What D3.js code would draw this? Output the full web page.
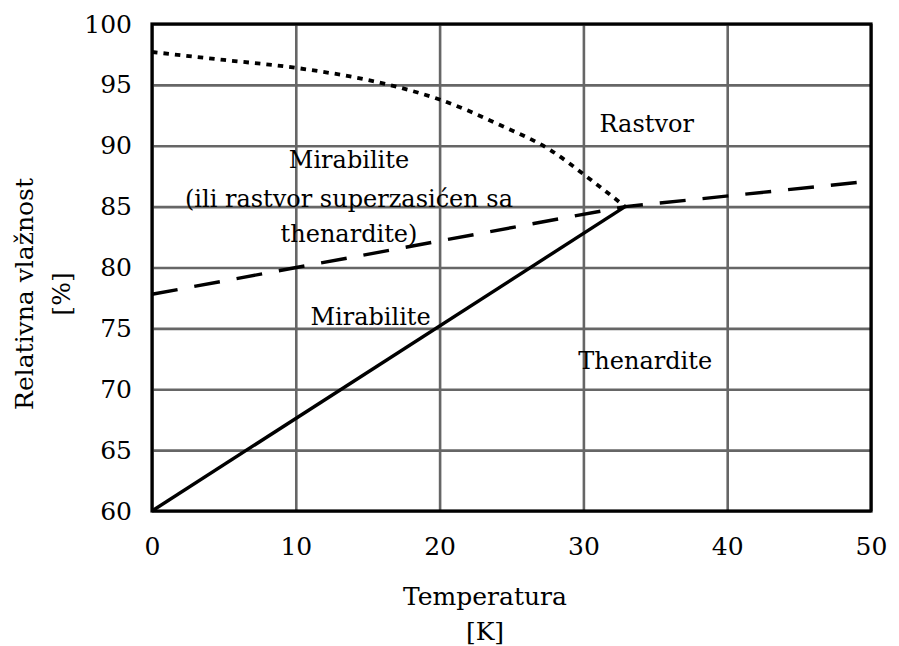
<!DOCTYPE html>
<html>
<head>
<meta charset="utf-8">
<script src="https://cdn.jsdelivr.net/npm/d3@7"></script>
<style>
  html, body { margin: 0; padding: 0; background: #fff; }
  svg { display: block; }
  text { font-family: "DejaVu Serif", "Liberation Serif", serif; fill: #000; }
</style>
</head>
<body>
<script>
// ---- data ----
const xTicks = [0, 10, 20, 30, 40, 50];
const yTicks = [60, 65, 70, 75, 80, 85, 90, 95, 100];
const xTitle = ["Temperatura", "[K]"];
const yTitle = ["Relativna vlažnost", "[%]"];

// solid line: mirabilite / thenardite boundary
const solidX = [0, 32.9];
const solidY = [60, 85];
// dashed line
const dashedX = [0, 32.9, 50];
const dashedY = [77.8, 85, 87.1];
// dotted curve
const dottedX = [0, 5, 10, 15, 17, 20, 24.2, 27.7, 30.3, 32.9];
const dottedY = [97.7, 97.05, 96.4, 95.4, 94.85, 93.8, 91.7, 89.65, 87.4, 85];

// region labels (data coordinates of centre / baseline)
const labelText = ["Rastvor", "Mirabilite", "(ili rastvor superzasićen sa", "thenardite)", "Mirabilite", "Thenardite"];
const labelX = [34.4, 13.7, 13.7, 13.7, 15.2, 34.3];
const labelY = [91.1, 88.2, 85.0, 82.1, 75.3, 71.7];

// ---- layout ----
const W = 899, H = 646;
const pLeft = 152, pRight = 871, pTop = 24, pBottom = 511;

const svg = d3.select("body").append("svg").attr("width", W).attr("height", H);
svg.append("rect").attr("width", W).attr("height", H).attr("fill", "#fff");

const x = d3.scaleLinear().domain([0, 50]).range([pLeft, pRight]);
const y = d3.scaleLinear().domain([60, 100]).range([pBottom, pTop]);

// grid
const gridColor = "#666";
const gx = svg.append("g").attr("transform", `translate(0,${pBottom})`)
  .call(d3.axisBottom(x).tickValues(xTicks).tickSize(-(pBottom - pTop)).tickFormat(""));
gx.select(".domain").remove();
gx.selectAll("line").attr("stroke", gridColor).attr("stroke-width", 2.6);

const gy = svg.append("g").attr("transform", `translate(${pLeft},0)`)
  .call(d3.axisLeft(y).tickValues(yTicks).tickSize(-(pRight - pLeft)).tickFormat(""));
gy.select(".domain").remove();
gy.selectAll("line").attr("stroke", gridColor).attr("stroke-width", 2.6);

// plot border
svg.append("rect").attr("x", pLeft).attr("y", pTop)
  .attr("width", pRight - pLeft).attr("height", pBottom - pTop)
  .attr("fill", "none").attr("stroke", "#000").attr("stroke-width", 3.2);

// tick labels
const xa = svg.append("g").attr("transform", `translate(0,${pBottom})`)
  .call(d3.axisBottom(x).tickValues(xTicks).tickSize(0).tickPadding(26).tickFormat(d3.format("d")));
xa.select(".domain").remove();
xa.selectAll("text").attr("font-size", 25).attr("font-family", "DejaVu Serif").attr("fill", "#000");

const ya = svg.append("g").attr("transform", `translate(${pLeft},0)`)
  .call(d3.axisLeft(y).tickValues(yTicks).tickSize(0).tickPadding(20).tickFormat(d3.format("d")));
ya.select(".domain").remove();
ya.selectAll("text").attr("font-size", 25).attr("font-family", "DejaVu Serif").attr("fill", "#000");

// lines
const lineGen = d3.line().x(d => x(d[0])).y(d => y(d[1]));
svg.append("path").datum(solidX.map((v, i) => [v, solidY[i]]))
  .attr("d", lineGen).attr("fill", "none").attr("stroke", "#000").attr("stroke-width", 3.4);
svg.append("path").datum(dashedX.map((v, i) => [v, dashedY[i]]))
  .attr("d", lineGen).attr("fill", "none").attr("stroke", "#000").attr("stroke-width", 3.4)
  .attr("stroke-dasharray", "26,17");
const curveGen = d3.line().x(d => x(d[0])).y(d => y(d[1])).curve(d3.curveMonotoneX);
svg.append("path").datum(dottedX.map((v, i) => [v, dottedY[i]]))
  .attr("d", curveGen).attr("fill", "none").attr("stroke", "#000").attr("stroke-width", 3.8)
  .attr("stroke-dasharray", "5.5,6");

// region labels
svg.append("g").selectAll("text").data(labelText).join("text")
  .attr("x", (d, i) => x(labelX[i]))
  .attr("y", (d, i) => y(labelY[i]))
  .attr("text-anchor", "middle")
  .attr("font-size", 24)
  .text(d => d);

// axis titles
svg.append("text").attr("x", 485).attr("y", 605).attr("text-anchor", "middle")
  .attr("font-size", 25).text(xTitle[0]);
svg.append("text").attr("x", 485).attr("y", 640).attr("text-anchor", "middle")
  .attr("font-size", 25).text(xTitle[1]);
svg.append("text").attr("transform", "translate(33,294) rotate(-90)").attr("text-anchor", "middle")
  .attr("font-size", 25).text(yTitle[0]);
svg.append("text").attr("transform", "translate(70,294) rotate(-90)").attr("text-anchor", "middle")
  .attr("font-size", 25).text(yTitle[1]);
</script>
</body>
</html>
